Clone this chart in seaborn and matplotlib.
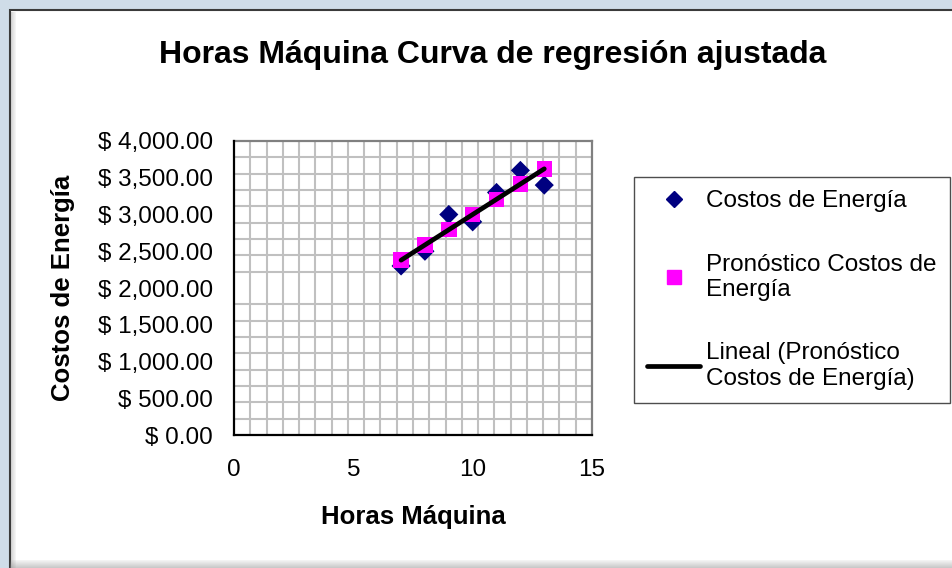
import numpy as np
import pandas as pd
import matplotlib
matplotlib.use("Agg")
import matplotlib.pyplot as plt
import matplotlib.patches as patches
from matplotlib.lines import Line2D
from matplotlib.ticker import FuncFormatter
import seaborn as sns

# Data
horas = [7, 8, 9, 10, 11, 12, 13]
costos = [2300, 2500, 3000, 2900, 3300, 3600, 3400]
pronostico = [2378.57, 2585.71, 2792.86, 3000.00, 3207.14, 3414.29, 3621.43]

x_ticks = [0, 5, 10, 15]
y_ticks = [0, 500, 1000, 1500, 2000, 2500, 3000, 3500, 4000]

title = "Horas Máquina Curva de regresión ajustada"
x_label = "Horas Máquina"
y_label = "Costos de Energía"
series_labels = ["Costos de Energía",
                 "Pronóstico Costos de\nEnergía",
                 "Lineal (Pronóstico\nCostos de Energía)"]

df = pd.DataFrame({"horas": horas, "costos": costos, "pronostico": pronostico})

sns.set_style("white")
plt.rcParams["font.family"] = ["Liberation Sans", "DejaVu Sans"]
plt.rcParams["text.color"] = "black"
plt.rcParams["axes.labelcolor"] = "black"

W, H = 953, 568
fig = plt.figure(figsize=(W / 100, H / 100), dpi=100)
fig.patch.set_facecolor("#cfdce8")

# white chart panel with dark border and soft shadow
fig.patches.append(patches.Rectangle((10 / W, -0.1), 1.2, 1.1 - 10 / H,
                                     transform=fig.transFigure, facecolor="white",
                                     edgecolor="#3a3a3a", lw=1.5, zorder=-5))
for i in range(5):
    fig.patches.append(patches.Rectangle((11.5 / W + i / W, 0), 1 / W, 1 - 11.5 / H,
                                         transform=fig.transFigure, facecolor="#777777",
                                         alpha=0.3 - i * 0.055, lw=0, zorder=-4))
for i in range(8):
    fig.patches.append(patches.Rectangle((10 / W, i / H), 1, 1 / H,
                                         transform=fig.transFigure, facecolor="#888888",
                                         alpha=0.45 - i * 0.05, lw=0, zorder=-4))

ax = fig.add_axes([234 / W, 1 - 435 / H, (592 - 234) / W, (435 - 141) / H])

sns.scatterplot(data=df, x="horas", y="costos", marker="D", s=95, color="#000080",
                edgecolor="none", ax=ax, zorder=3)
sns.scatterplot(data=df, x="horas", y="pronostico", marker="s", s=125, color="#ff00ff",
                edgecolor="none", ax=ax, zorder=4)
sns.regplot(data=df, x="horas", y="pronostico", scatter=False, ci=None, ax=ax,
            line_kws={"color": "black", "lw": 3.4, "solid_capstyle": "round", "zorder": 5})

ax.set_xlim(0, 15)
ax.set_ylim(0, 4000)
ax.set_xticks(x_ticks)
ax.set_yticks(y_ticks)
ax.yaxis.set_major_formatter(FuncFormatter(lambda v, p: f"$ {v:,.2f}"))

# pattern grid of the plot area
ax.set_xticks(np.linspace(0, 15, 23)[1:-1], minor=True)
ax.set_yticks(np.linspace(0, 4000, 19)[1:-1], minor=True)
ax.grid(False, which="major")
ax.grid(True, which="minor", color="#c0c0c0", lw=1.5)
ax.set_axisbelow(True)

ax.tick_params(which="minor", length=0)
ax.tick_params(which="major", direction="inout", length=12, width=1.2, color="black",
               labelsize=17.5, labelcolor="black")
ax.tick_params(axis="x", pad=11)
ax.tick_params(axis="y", pad=9)

for side in ["left", "bottom"]:
    ax.spines[side].set_color("black")
    ax.spines[side].set_linewidth(1.6)
for side in ["top", "right"]:
    ax.spines[side].set_color("#808080")
    ax.spines[side].set_linewidth(1.6)
ax.spines["left"].set_zorder(6)

ax.set_xlabel(x_label, fontsize=18.5, fontweight="bold", va="center")
ax.set_ylabel(y_label, fontsize=18.5, fontweight="bold", va="center")
ax.xaxis.set_label_coords(0.5, (435 - 517) / (435 - 141))
ax.yaxis.set_label_coords((63 - 234) / (592 - 234), 0.5)

fig.text(493 / W, 1 - 55 / H, title, ha="center", va="center", fontsize=23,
         fontweight="bold")

handles = [
    Line2D([], [], marker="D", color="#000080", ls="none", markersize=8),
    Line2D([], [], marker="s", color="#ff00ff", ls="none", markersize=10),
    Line2D([], [], color="black", lw=3.4),
]
leg = fig.legend(handles, series_labels, loc="upper left",
                 bbox_to_anchor=(634 / W, 1 - 177 / H), fontsize=17.5,
                 frameon=True, fancybox=False, edgecolor="#202020",
                 labelspacing=1.7, handlelength=2.18, handletextpad=0.25,
                 borderpad=0.55, borderaxespad=0)
leg.get_frame().set_linewidth(1.0)

fig.savefig("out.png", dpi=100, facecolor=fig.get_facecolor())
